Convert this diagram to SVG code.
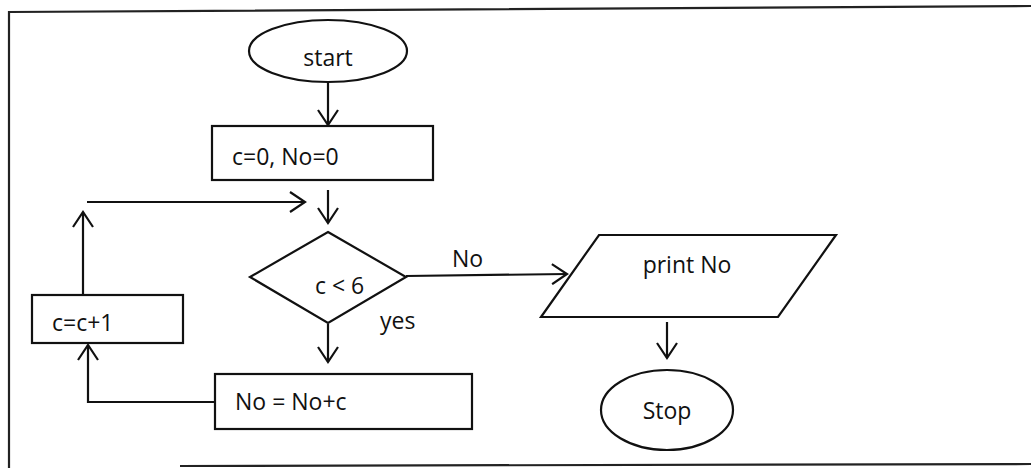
<svg xmlns="http://www.w3.org/2000/svg" width="1031" height="468" viewBox="0 0 1031 468">
<defs>
<marker id="arr" viewBox="0 0 18 22" refX="16" refY="11" markerWidth="18" markerHeight="22" markerUnits="userSpaceOnUse" orient="auto">
<path d="M1,1 L16,11 L1,21" fill="none" stroke="#111" stroke-width="2.2"/>
</marker>
<style>
.shape{fill:#fff;stroke:#111;stroke-width:2.2}
.txt{font-family:"Open Sans","Liberation Sans",sans-serif;font-size:23px;fill:#111}
.conn{fill:none;stroke:#111;stroke-width:2.2}
.frame{fill:none;stroke:#222;stroke-width:2.2}
</style>
</defs>
<rect width="1031" height="468" fill="#fff"/>
<path class="frame" d="M1031,6 L9,12 L9,468"/>
<path class="frame" d="M180,466 L1031,464" stroke="#555"/>
<g id="start">
<ellipse class="shape" cx="328" cy="51" rx="79" ry="31"/>
<text class="txt" x="328" y="66" text-anchor="middle">start</text>
</g>
<g id="init">
<rect class="shape" x="212" y="126" width="221" height="54"/>
<text class="txt" x="232" y="165">c=0, No=0</text>
</g>
<g id="decision">
<polygon class="shape" points="328,232 406,277 328,323 250,277"/>
<text class="txt" x="315" y="294">c &lt; 6</text>
</g>
<g id="increment">
<rect class="shape" x="32" y="295" width="151" height="48"/>
<text class="txt" x="52" y="331">c=c+1</text>
</g>
<g id="accumulate">
<rect class="shape" x="215" y="374" width="257" height="55"/>
<text class="txt" x="235" y="410">No = No+c</text>
</g>
<g id="print">
<polygon class="shape" points="599,235 836,235 778,317 541,317"/>
<text class="txt" x="687" y="273" text-anchor="middle">print No</text>
</g>
<g id="stop">
<ellipse class="shape" cx="667" cy="410" rx="66" ry="40"/>
<text class="txt" x="667" y="419" text-anchor="middle">Stop</text>
</g>
<g id="connectors">
<path class="conn" d="M328,83 L328,125" marker-end="url(#arr)"/>
<path class="conn" d="M328,190 L328,223" marker-end="url(#arr)"/>
<path class="conn" d="M83,295 L83,212" marker-end="url(#arr)"/>
<path class="conn" d="M87,202 L305,202" marker-end="url(#arr)"/>
<path class="conn" d="M406,276 L567,274" marker-end="url(#arr)"/>
<path class="conn" d="M328,324 L328,362" marker-end="url(#arr)"/>
<path class="conn" d="M215,402 L88,402 L88,345" marker-end="url(#arr)"/>
<path class="conn" d="M667,322 L667,358" marker-end="url(#arr)"/>
<text class="txt" x="452" y="267">No</text>
<text class="txt" x="380" y="329">yes</text>
</g>
</svg>
